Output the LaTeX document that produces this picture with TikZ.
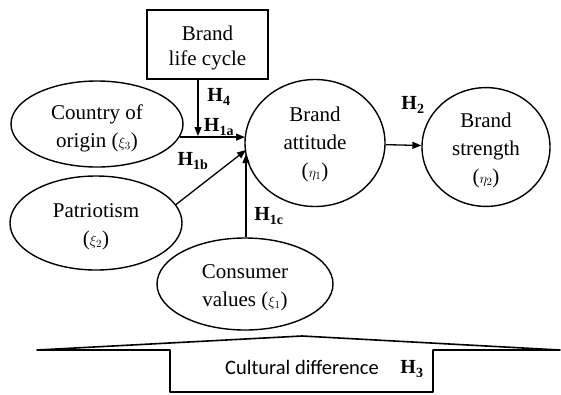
\documentclass[tikz,border=0pt]{standalone}
\usepackage{fontspec}
\setmainfont{Liberation Serif}
\newfontfamily\calibrifont{Carlito}
\usetikzlibrary{arrows.meta,shapes.geometric}
\newcommand{\grk}[2]{{\fontsize{15}{15}\selectfont$#1_{#2}$}}
\newcommand{\txt}[2]{\raisebox{-#1}[\height][\depth]{\begin{tabular}{@{}c@{}}#2\end{tabular}}}

\begin{document}
\begin{tikzpicture}[x=1pt,y=-1pt,
  every node/.style={font=\fontsize{21}{28}\selectfont},
  oval/.style={draw,ellipse,line width=1.4pt,inner sep=0pt},
  hyp/.style={font=\fontsize{20}{20}\selectfont\bfseries},
  arr/.style={-{Triangle[length=9pt,width=7pt]},line width=1.3pt}]
  \useasboundingbox (0,0) rectangle (561,394);
  \node[draw,line width=1.4pt,minimum width=121pt,minimum height=69pt,font=\fontsize{21}{25}\selectfont] (cycle) at (207.5,44.5) {\txt{3pt}{Brand\\life cycle}};
  \node[oval,minimum width=172pt,minimum height=86pt] (origin) at (97,124) {\txt{4pt}{Country of\\origin (\grk{\xi}{3})}};
  \node[oval,minimum width=140pt,minimum height=127pt] (attitude) at (315,143) {\txt{1pt}{Brand\\attitude\\(\grk{\eta}{1})}};
  \node[oval,minimum width=128pt,minimum height=116pt] (strength) at (486,147) {\txt{3pt}{Brand\\strength\\(\grk{\eta}{2})}};
  \node[oval,minimum width=172pt,minimum height=94pt] (patriot) at (96,223) {\txt{2.5pt}{Patriotism\\(\grk{\xi}{2})}};
  \node[oval,minimum width=176pt,minimum height=92pt] (values) at (245,284) {\txt{3pt}{Consumer\\values (\grk{\xi}{1})}};

  \coordinate (ina) at (245,137);
  \coordinate (join) at (198,136);
  \coordinate (inb) at (246,150);
  \coordinate (inc) at (246,154);
  \draw[arr] (origin.-9) -- (origin.-9 -| ina);
  \draw[arr] (cycle.south -| join) -- (join);
  \draw[arr] (patriot.13) -- (inb);
  \draw[arr] (values.north -| inc) -- (inc);
  \draw[arr] (attitude) -- (strength);

  \node[hyp] (h4) at (219,97) {H\textsubscript{4}};
  \node[hyp] (h1a) at (219,127) {H\textsubscript{1a}};
  \node[hyp] (h1b) at (193,161) {H\textsubscript{1b}};
  \node[hyp] (h1c) at (269,216) {H\textsubscript{1c}};
  \node[hyp] (h2) at (413,105) {H\textsubscript{2}};

  \draw[line width=1.6pt,line join=round] (37,350) -- (302,336) -- (560,350) -- (433,350) -- (433,392) -- (170,392) -- (170,350) -- cycle;
  \node[font=\calibrifont\fontsize{20.5}{24}\selectfont] (culture) at (302,367) {Cultural difference};
  \node[hyp] (h3) at (412,369) {H\textsubscript{3}};
\end{tikzpicture}
\end{document}
